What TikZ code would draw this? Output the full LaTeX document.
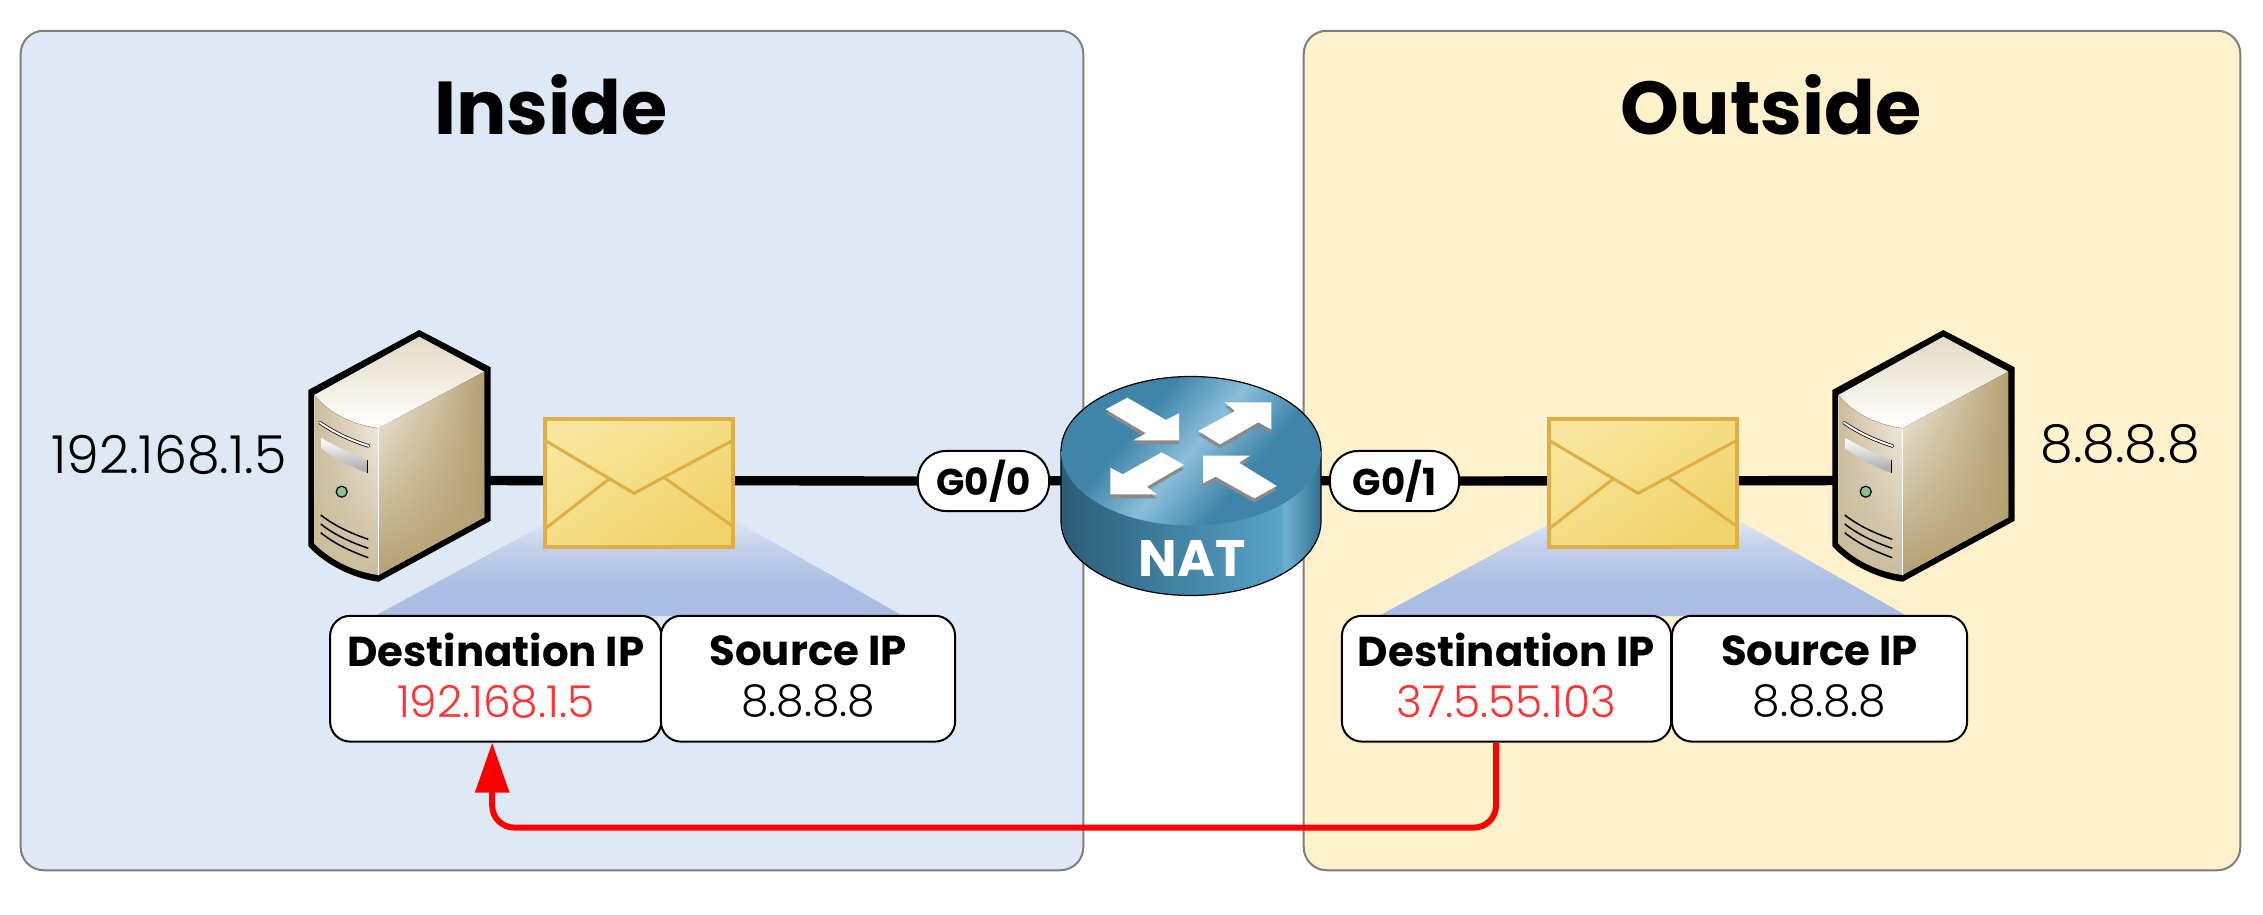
\documentclass[tikz,border=0pt]{standalone}
\usepackage{fontspec}
\setmainfont{Poppins}
\newfontface\iplight{Poppins Light}
\usetikzlibrary{arrows.meta,fadings}

\definecolor{insidefill}{HTML}{DEE9F5}
\definecolor{outsidefill}{HTML}{FFF1CC}
\definecolor{panelline}{HTML}{7F7F7F}
\definecolor{redtext}{HTML}{FF3333}
\definecolor{mailline}{HTML}{DFAF45}
\definecolor{maillight}{HTML}{F8E69C}
\definecolor{maildark}{HTML}{EFD36B}
\definecolor{wedgea}{HTML}{DCE7F5}
\definecolor{wedgeb}{HTML}{C3D0EB}
\definecolor{wedgec}{HTML}{AABDE2}
\definecolor{rtrdark}{HTML}{3F84A9}
\definecolor{rtrlight}{HTML}{8ABEDA}
\definecolor{rtrshadow}{HTML}{8A8A8A}
\definecolor{rtrleft}{HTML}{2A5D78}
\definecolor{rtrright}{HTML}{57A3C8}
\definecolor{rtredge}{HTML}{2F6F90}
\definecolor{srvtan}{HTML}{B5A071}
\definecolor{srvcream}{HTML}{E3DBC5}
\definecolor{srvpale}{HTML}{F6F2E9}
\definecolor{srvmid}{HTML}{CBBC9C}

\pgfdeclareverticalshading{wedgefade}{100bp}{color(0bp)=(wedgec); color(41bp)=(wedgec); color(61bp)=(wedgeb); color(75bp)=(wedgea); color(100bp)=(wedgea)}
\pgfdeclarehorizontalshading{rtrside}{100bp}{color(0bp)=(rtrleft); color(25bp)=(rtrleft); color(67bp)=(rtrright); color(68bp)=(rtrright!85!white); color(75bp)=(rtredge); color(100bp)=(rtredge)}
\pgfdeclareverticalshading{rtrtop}{100bp}{color(0bp)=(rtrdark); color(36bp)=(rtrdark); color(50bp)=(rtrlight); color(64bp)=(rtrdark); color(100bp)=(rtrdark)}

\tikzset{
  panel/.style={draw=panelline,line width=0.02cm,rounded corners=0.23cm,inner sep=0pt},
  title/.style={font=\fontsize{21.3}{24}\selectfont\bfseries},
  hostip/.style={font=\fontsize{14.9}{18}\iplight},
  cell/.style={draw,fill=white,line width=0.02cm,rounded corners=0.2cm,inner sep=0pt,align=center,minimum height=1.257cm,text depth=0.06cm,font=\fontsize{11.9}{14.5}\selectfont},
  port/.style={draw,fill=white,line width=0.02cm,rounded corners=0.28cm,inner sep=0pt,minimum height=0.6cm,font=\fontsize{10.6}{12}\selectfont\bfseries},
  link/.style={line width=0.093cm},
  natpath/.style={red,line width=0.06cm,rounded corners=0.22cm,-{Triangle[length=0.5cm,width=0.33cm]}}
}
\newcommand{\ipval}[1]{{\fontsize{12.5}{14}\iplight #1}}

\newcommand{\servericon}[1]{
\begin{scope}[shift={(#1,0)}]
\fill[black] (419.3,330) -- (490.7,367.3) -- (490.7,520.7) -- (378.7,581.7) .. controls (355,579) and (325,565) .. (308.3,546) -- (308.3,390) -- cycle;
\shade[top color=srvcream,bottom color=white] (419.3,336.7) -- (484.3,371.7) -- (378.3,428.3) .. controls (355,425) and (330,415) .. (314.3,395) -- cycle;
\shade[left color=srvpale,right color=srvtan] (378.3,428.3) -- (484.3,371.7) -- (484.3,517.3) -- (378.3,575) -- cycle;
\fill[srvtan,path fading=north] (378.3,428.3) -- (484.3,371.7) -- (484.3,517.3) -- (378.3,575) -- cycle;
\shade[top color=srvpale,bottom color=srvmid] (314.3,395) .. controls (330,415) and (355,425) .. (378.3,428.3) -- (378.3,575) .. controls (355,572) and (330,560) .. (314.3,543.3) -- cycle;
\fill[srvmid,path fading=east] (314.3,395) .. controls (330,415) and (355,425) .. (378.3,428.3) -- (378.3,575) .. controls (355,572) and (330,560) .. (314.3,543.3) -- cycle;
\draw[white,line width=0.007cm] (378.3,428.3) -- (378.3,575);
\draw[srvtan,line width=0.005cm] (314.3,395) .. controls (330,415) and (355,425) .. (378.3,428.3);
\draw[black,line width=0.035cm,line cap=round] (320,422.7) .. controls (335,433) and (350,440) .. (368.7,446);
\draw[white,line width=0.02cm,line cap=round] (320,422.7) .. controls (335,433) and (350,440) .. (368.7,446);
\shade[top color=white,bottom color=black!35] (321,437.7) .. controls (335,446) and (350,453) .. (367.3,460) -- (367.3,472.7) .. controls (350,467) and (335,458) .. (321,448.3) -- cycle;
\draw[black,line width=0.01cm] (367.3,460) -- (367.3,472.7);
\draw[fill=green!45!black!45!white,line width=0.012cm] (341.7,491.7) circle (0.055cm);
\draw[black,line width=0.015cm] (320.7,515) .. controls (335,526) and (350,533) .. (368.3,539.3);
\draw[black,line width=0.015cm] (320.7,524) .. controls (335,535) and (350,542) .. (368.3,548.3);
\draw[black,line width=0.015cm] (320.7,532.7) .. controls (335,544) and (350,551) .. (368.3,557.7);
\end{scope}
}

\newcommand{\mailicon}[1]{
\begin{scope}[shift={(#1,0)}]
\shade[shading=wedgefade] (543.3,525) -- (735,520.7) -- (903,616) -- (374.7,616) -- cycle;
\shade[top color=maillight,bottom color=maildark,shading angle=35,draw=mailline,line width=0.04cm] (545.3,418.7) rectangle (733,546.7);
\draw[mailline,line width=0.03cm] (545.7,440.7) -- (634,493.3) -- (732.3,440.7);
\draw[mailline,line width=0.03cm] (545.7,528.3) -- (609,479);
\draw[mailline,line width=0.03cm] (732.3,526) -- (664.3,477.7);
\end{scope}
}

\begin{document}
\begin{tikzpicture}[x=0.01cm,y=-0.01cm]
\useasboundingbox (0,0) rectangle (2263,915);
% panels
\node[panel,fill=insidefill,minimum width=10.62cm,minimum height=8.39cm] (inpanel) at (552,450.5) {};
\node[panel,fill=outsidefill,minimum width=9.36cm,minimum height=8.39cm] (outpanel) at (1772,450.5) {};
\node[title] (intitle) at (551,105) {Inside};
\node[title] (outtitle) at (1771,105) {Outside};
\node[hostip] (inip) at (169,454.5) {192.168.1.5};
\node[hostip] (outip) at (2120,444) {8.8.8.8};
% link ends
\coordinate (srvin) at (400,480.5);
\coordinate (srvout) at (1924,480.5);
\coordinate (rtr) at (1191,480.5);
\node[port,minimum width=1.31cm] (g00) at (983.5,481) {G0/0};
\node[port,minimum width=1.29cm] (g01) at (1394.5,481) {G0/1};
\draw[link] (srvin) -- (g00);
\draw[link] (g00) -- (rtr);
\draw[link] (rtr) -- (g01);
\draw[link] (g01) -- (srvout);
% hosts and packets
\servericon{0}
\servericon{1524}
\mailicon{0}
\mailicon{1004}
% router
\shade[shading=rtrside,draw=black,line width=0.012cm] (1061,451) -- (1061,521) .. controls (1061,562.1) and (1119.2,595.5) .. (1191,595.5) .. controls (1262.8,595.5) and (1321,562.1) .. (1321,521) -- (1321,451) -- cycle;
\shade[shading=rtrtop,shading angle=50] (1191,451) ellipse [x radius=1.3cm,y radius=0.745cm];
\draw[black,line width=0.012cm] (1061,451) .. controls (1061,409.9) and (1119.2,376.5) .. (1191,376.5) .. controls (1262.8,376.5) and (1321,409.9) .. (1321,451);
\foreach \dy/\col in {4/rtrshadow,0/white} {
  \begin{scope}[shift={(0,\dy)}]
  \fill[\col] (1105.7,409.3) -- (1127.3,397.7) -- (1166,420) -- (1179,413.3) -- (1179,440.3) -- (1133.3,440.3) -- (1146,433.3) -- cycle;
  \fill[\col] (1198.3,431) -- (1235,411) -- (1225,402.3) -- (1271.3,402.3) -- (1271.3,429.3) -- (1258.3,422.3) -- (1220,444.3) -- cycle;
  \fill[\col] (1184,465) -- (1146.7,486.7) -- (1156.7,494.3) -- (1110.3,494.3) -- (1110.3,467.7) -- (1122.7,474.3) -- (1161.7,452.3) -- cycle;
  \fill[\col] (1276.7,486) -- (1254.3,498.3) -- (1215.7,476.7) -- (1203,483.3) -- (1203,455.7) -- (1250,455.7) -- (1239,462.7) -- cycle;
  \end{scope}
}
\node[white,font=\fontsize{14.6}{18}\selectfont\bfseries] (nat) at (1192,558) {NAT};
% header tables
\node[cell,minimum width=3.31cm] (dstin) at (495.7,678.7) {\textbf{Destination IP}\\\textcolor{redtext}{\ipval{192.168.1.5}}};
\node[cell,minimum width=2.94cm] (srcin) at (808,678.7) {\textbf{Source IP}\\\ipval{8.8.8.8}};
\node[cell,minimum width=3.29cm] (dstout) at (1506.5,678.7) {\textbf{Destination IP}\\\textcolor{redtext}{\ipval{37.5.55.103}}};
\node[cell,minimum width=2.95cm] (srcout) at (1819.5,678.7) {\textbf{Source IP}\\\ipval{8.8.8.8}};
\draw[natpath] ([xshift=-0.105cm]dstout.south) -- ++(0,85) -| ([xshift=-0.035cm]dstin.south);
\end{tikzpicture}
\end{document}
